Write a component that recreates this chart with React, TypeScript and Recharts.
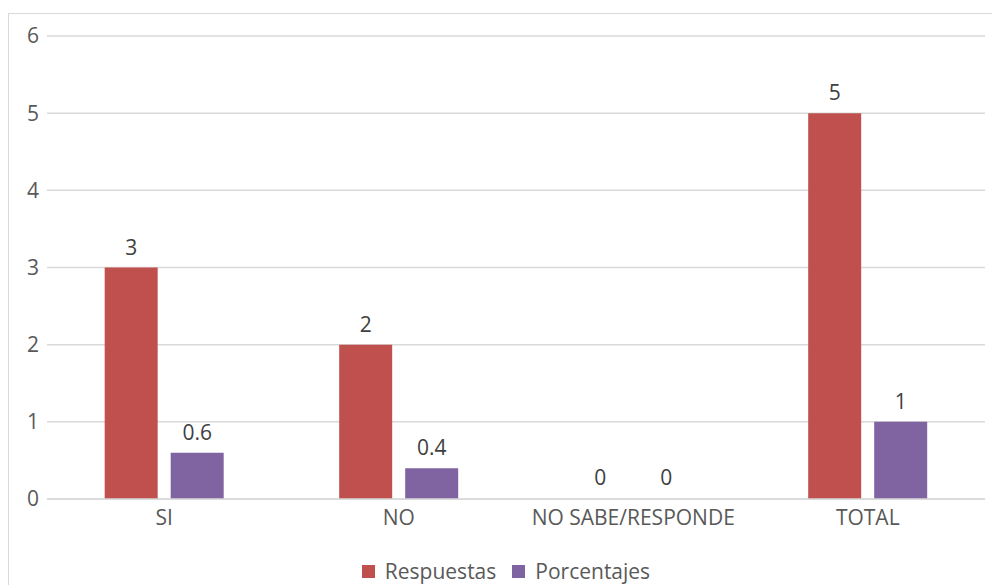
import React from "react";
import { BarChart, Bar, XAxis, YAxis, CartesianGrid, Legend, LabelList, Rectangle } from "recharts";

// Respuestas y porcentajes por opción
const categorias = ["SI", "NO", "NO SABE/RESPONDE", "TOTAL"];
const respuestas = [3, 2, 0, 5];
const porcentajes = [0.6, 0.4, 0, 1];
const ticksY = [0, 1, 2, 3, 4, 5, 6];

const series = [
  { key: "Respuestas", color: "#C0504D" },
  { key: "Porcentajes", color: "#8064A2" },
];

const data = categorias.map((c, i) => ({
  categoria: c,
  Respuestas: respuestas[i],
  Porcentajes: porcentajes[i],
}));

const FONT = "'Open Sans', 'Noto Sans', sans-serif";
const GRIS = "#595959";

// etiqueta de valor encima de cada barra (también cuando vale 0)
const ValorLabel = (props: any) => {
  const { x, y, width, value } = props;
  return (
    <text
      x={Number(x) + Number(width) / 2}
      y={Number(y) - 13}
      textAnchor="middle"
      fill="#404040"
      fontSize={21}
      fontFamily={FONT}
    >
      {value}
    </text>
  );
};

// las barras con valor 0 conservan su posición (para la etiqueta) pero no se pintan
const barraForma = (key: string) => (props: any) =>
  props.payload?.[key] === 0 ? <g /> : <Rectangle {...props} />;

const Leyenda = () => (
  <div
    style={{
      display: "flex",
      justifyContent: "center",
      alignItems: "center",
      paddingLeft: 18,
      fontFamily: FONT,
      fontSize: 21,
      color: GRIS,
      lineHeight: "28px",
    }}
  >
    {series.map((s) => (
      <div key={s.key} style={{ display: "flex", alignItems: "center", margin: "0 8px" }}>
        <span style={{ width: 13, height: 13, background: s.color, marginRight: 10, display: "inline-block" }} />
        <span>{s.key}</span>
      </div>
    ))}
  </div>
);

export default function App() {
  return (
    <div
      style={{
        position: "absolute",
        top: 13,
        left: 8,
        width: 984,
        height: 572,
        borderTop: "1px solid #d9d9d9",
        borderLeft: "1px solid #d9d9d9",
        fontFamily: FONT,
        overflow: "hidden",
      }}
    >
      <BarChart
        width={983}
        height={590}
        data={data}
        margin={{ top: 22, right: 7, bottom: 19, left: 0 }}
        barCategoryGap="24.6%"
        barGap={13}
      >
        <CartesianGrid vertical={false} stroke="#d9d9d9" strokeWidth={1.5} />
        <XAxis
          dataKey="categoria"
          height={58}
          tickLine={false}
          axisLine={{ stroke: "#d9d9d9", strokeWidth: 1.5 }}
          tickMargin={5}
          tick={{ fill: GRIS, fontSize: 21, fontFamily: FONT }}
        />
        <YAxis
          width={38}
          domain={[0, 6]}
          ticks={ticksY}
          tickLine={false}
          axisLine={false}
          tick={{ fill: GRIS, fontSize: 21, fontFamily: FONT }}
        />
        <Legend verticalAlign="bottom" height={28} content={<Leyenda />} />
        {series.map((s) => (
          <Bar
            key={s.key}
            dataKey={s.key}
            fill={s.color}
            minPointSize={1}
            shape={barraForma(s.key)}
            isAnimationActive={false}
          >
            <LabelList dataKey={s.key} content={<ValorLabel />} />
          </Bar>
        ))}
      </BarChart>
    </div>
  );
}
